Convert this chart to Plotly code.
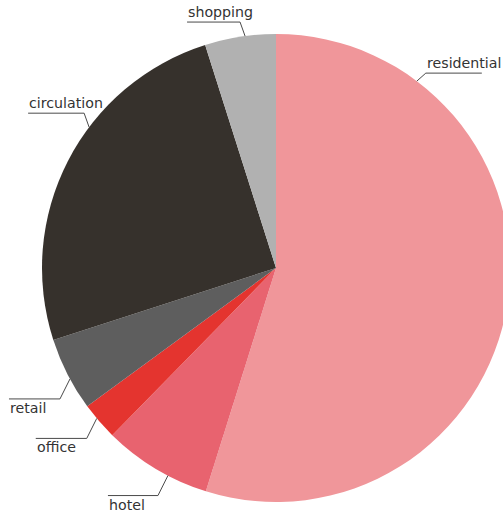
import math
import plotly.graph_objects as go

# ---- data ----
categories = ["residential", "hotel", "office", "retail", "circulation", "shopping"]
shares = [54.9, 7.5, 2.6, 5.1, 25.1, 4.9]
colors = ["#F0969A", "#E8636F", "#E4342F", "#5E5E5E", "#36312C", "#B1B1B1"]

# ---- layout / styling constants ----
H = 515
W = 512                                   # figure slightly wider than the 503px view: pie is cut at the right
CX, CY, R = 276.0, 268.0, 234.0           # pie centre / radius in px
# angle (deg, clockwise from 12 o'clock) where each leader line touches the pie
label_angles = {"residential": 37.0, "hotel": 207.5, "office": 230.0,
                "retail": 241.7, "circulation": 307.0, "shopping": 352.4}
FONT = dict(family="DejaVu Sans", size=14.2, color="#333333")
LINE_COLOR = "#4a4a4a"

dom_x = [(CX - R) / W, (CX + R) / W]
dom_y = [1 - (CY + R) / H, 1 - (CY - R) / H]

fig = go.Figure(go.Pie(
    labels=categories,
    values=shares,
    sort=False,
    direction="clockwise",
    rotation=0,
    marker=dict(colors=colors, line=dict(width=0)),
    textinfo="none",
    hoverinfo="label+percent",
    showlegend=False,
    domain=dict(x=dom_x, y=dom_y),
))

def px(x, y):
    return x / W, 1 - y / H

shapes, annotations = [], []
for cat in categories:
    t = math.radians(label_angles[cat])
    ex, ey = CX + R * math.sin(t), CY - R * math.cos(t)
    right = math.sin(t) > 0
    up = math.cos(t) > 0
    if right:
        dx, dy = 9, -8
    elif up:
        dx, dy = -5, -14
    else:
        dx, dy = -10, 20
    bx, by = ex + dx, ey + dy
    L = 45 + len(cat)
    if right:
        lx0, end_x = bx, bx + L
    else:
        lx0, end_x = bx - L, bx - L
    p = [px(ex, ey), px(bx, by), px(end_x, by)]
    path = "M {:.5f} {:.5f} L {:.5f} {:.5f} L {:.5f} {:.5f}".format(
        p[0][0], p[0][1], p[1][0], p[1][1], p[2][0], p[2][1])
    shapes.append(dict(type="path", xref="paper", yref="paper", path=path,
                       line=dict(color=LINE_COLOR, width=1)))
    tx, ty = px(lx0, by)
    annotations.append(dict(text=cat, x=tx, y=ty, xref="paper", yref="paper",
                            xanchor="left", yanchor="bottom" if up else "top",
                            showarrow=False, font=FONT, borderpad=0,
                            yshift=1 if up else 0))

fig.update_layout(
    width=W, height=H,
    margin=dict(l=0, r=0, t=0, b=0),
    paper_bgcolor="white", plot_bgcolor="white",
    shapes=shapes, annotations=annotations,
)
fig.write_html(
    "out.html",
    config={"displayModeBar": False},
    post_script="document.body.style.margin='0';document.body.style.overflow='hidden';",
)
